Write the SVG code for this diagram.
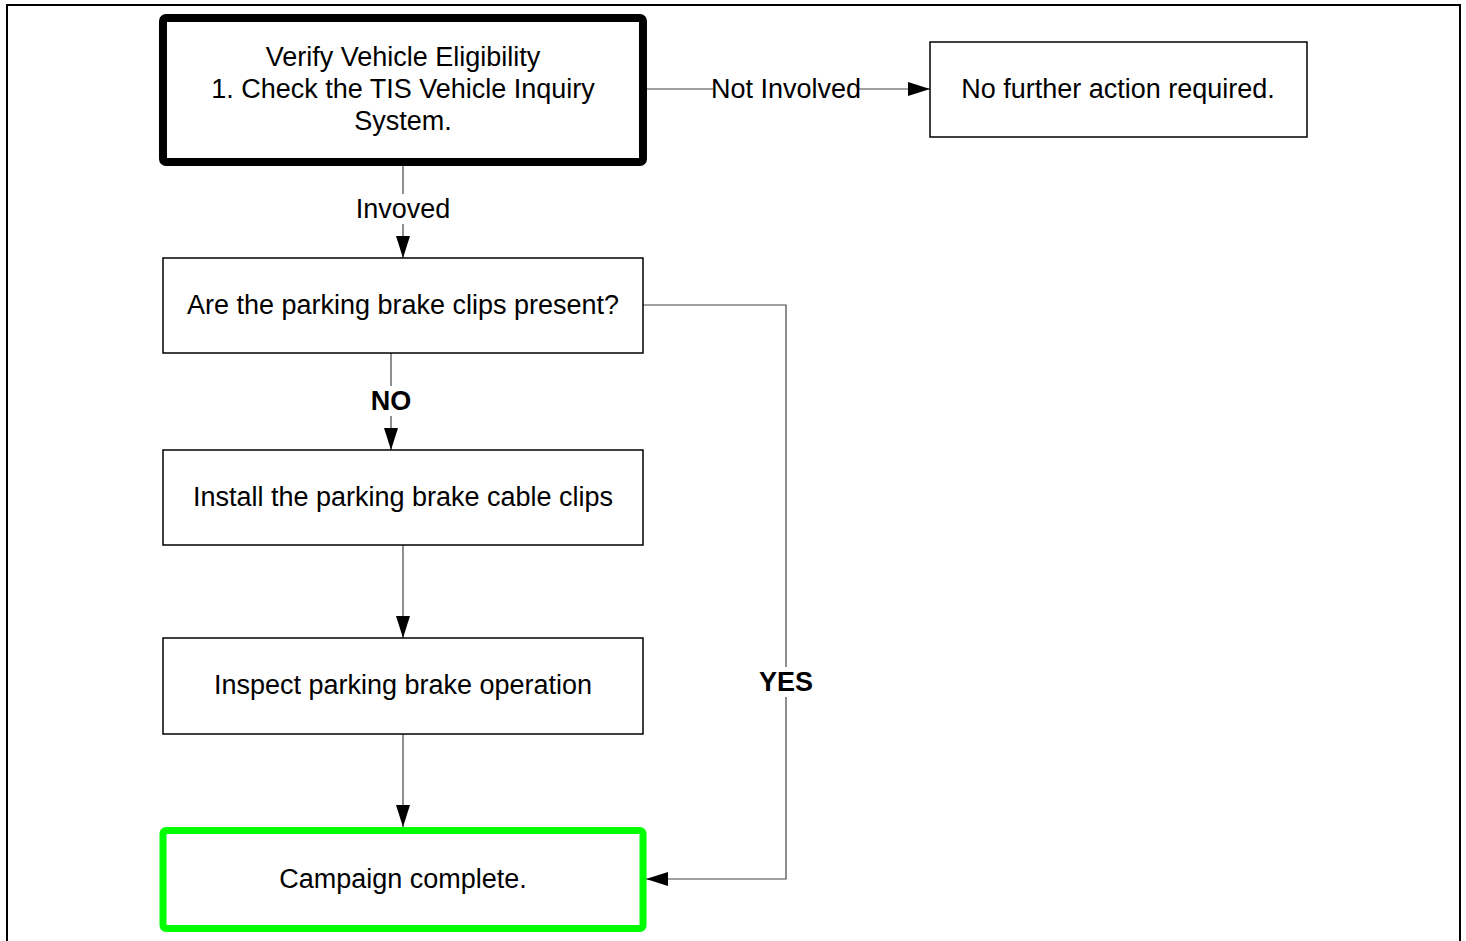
<svg xmlns="http://www.w3.org/2000/svg" width="1466" height="941" viewBox="0 0 1466 941">
<style>
.bx{fill:#fff;stroke:#000;stroke-width:1.5}
.t{font-family:"Liberation Sans",Arial,sans-serif;font-size:27px;fill:#000;text-anchor:middle}
.b{font-weight:bold}
.c{fill:none;stroke:#444;stroke-width:1.2}
.lb{fill:#fff;stroke:none}
</style>
<defs>
<marker id="ah" markerUnits="userSpaceOnUse" markerWidth="24" markerHeight="14" refX="22" refY="7" orient="auto">
<path d="M0,0 L22,7 L0,14 Z" fill="#000"/>
</marker>
</defs>
<rect x="7" y="5" width="1453" height="960" fill="#fff" stroke="#000" stroke-width="2"/>
<g id="connectors">
<path class="c" d="M403,165 V258" marker-end="url(#ah)"/>
<rect class="lb" x="352" y="194" width="102" height="30"/>
<text class="t" x="403" y="218">Invoved</text>
<path class="c" d="M646,89 H930" marker-end="url(#ah)"/>
<rect class="lb" x="713" y="74" width="146" height="30"/>
<text class="t" x="786" y="98">Not Involved</text>
<path class="c" d="M391,353 V450" marker-end="url(#ah)"/>
<rect class="lb" x="366" y="386" width="50" height="30"/>
<text class="t b" x="391" y="410">NO</text>
<path class="c" d="M403,545 V638" marker-end="url(#ah)"/>
<path class="c" d="M403,734 V827" marker-end="url(#ah)"/>
<path class="c" d="M643,305 H786 V879 H646" marker-end="url(#ah)"/>
<rect class="lb" x="756" y="667" width="60" height="30"/>
<text class="t b" x="786" y="691">YES</text>
</g>
<g id="n1">
<rect x="163" y="18" width="480" height="144" rx="3" fill="#fff" stroke="#000" stroke-width="8"/>
<text class="t" x="403" y="66">Verify Vehicle Eligibility</text>
<text class="t" x="403" y="98">1. Check the TIS Vehicle Inquiry</text>
<text class="t" x="403" y="130">System.</text>
</g>
<g id="n2">
<rect class="bx" x="930" y="42" width="377" height="95"/>
<text class="t" x="1118" y="98">No further action required.</text>
</g>
<g id="n3">
<rect class="bx" x="163" y="258" width="480" height="95"/>
<text class="t" x="403" y="314">Are the parking brake clips present?</text>
</g>
<g id="n4">
<rect class="bx" x="163" y="450" width="480" height="95"/>
<text class="t" x="403" y="506">Install the parking brake cable clips</text>
</g>
<g id="n5">
<rect class="bx" x="163" y="638" width="480" height="96"/>
<text class="t" x="403" y="694">Inspect parking brake operation</text>
</g>
<g id="n6">
<rect x="163" y="830.5" width="480" height="98" rx="3" fill="#fff" stroke="#00ff00" stroke-width="7"/>
<text class="t" x="403" y="888">Campaign complete.</text>
</g>
</svg>
